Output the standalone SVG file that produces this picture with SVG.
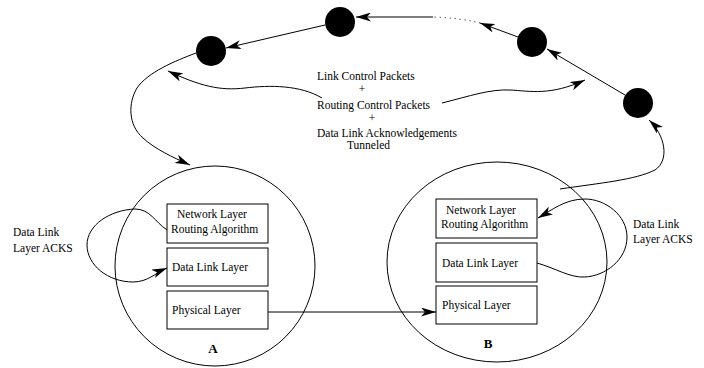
<svg xmlns="http://www.w3.org/2000/svg" width="704" height="368" viewBox="0 0 704 368">
  <style>
    text { font-family: "Liberation Serif", "Times New Roman", serif; font-size: 11.5px; fill: #000; }
    .big { font-size: 13px; font-weight: bold; }
    .shape { fill: none; stroke: #000; stroke-width: 1; }
    .box { fill: #fff; stroke: #000; stroke-width: 1; }
    .dot { fill: #000; }
    .wire { fill: none; stroke: #000; stroke-width: 1; }
    .arrow { marker-end: url(#head); }
    .dotted { stroke-dasharray: 1 4; }
  </style>
  <defs>
    <marker id="head" viewBox="0 0 15 9" refX="15" refY="4.5" markerWidth="15" markerHeight="9" markerUnits="userSpaceOnUse" orient="auto">
      <path d="M0,0 L15,4.5 L0,9 L4,4.5 z" fill="#000"/>
    </marker>
  </defs>

  <rect width="704" height="368" fill="#fff"/>

  <!-- Host A -->
  <g id="hostA">
    <circle class="shape" cx="215" cy="266" r="100"/>
    <text class="big" x="213" y="353" text-anchor="middle">A</text>
  </g>
  <g id="A-network">
    <rect class="box" x="167" y="204" width="101" height="39"/>
    <text x="177" y="218">Network Layer</text>
    <text x="171" y="233">Routing Algorithm</text>
  </g>
  <g id="A-datalink">
    <rect class="box" x="167" y="248" width="101" height="38"/>
    <text x="172" y="271">Data Link Layer</text>
  </g>
  <g id="A-physical">
    <rect class="box" x="167" y="291" width="101" height="38"/>
    <text x="172" y="314">Physical Layer</text>
  </g>

  <!-- Host B -->
  <g id="hostB">
    <ellipse class="shape" cx="497" cy="262" rx="110" ry="100"/>
    <text class="big" x="488" y="348" text-anchor="middle">B</text>
  </g>
  <g id="B-network">
    <rect class="box" x="436" y="199" width="101" height="39"/>
    <text x="446" y="214">Network Layer</text>
    <text x="441" y="228">Routing Algorithm</text>
  </g>
  <g id="B-datalink">
    <rect class="box" x="436" y="243" width="101" height="39"/>
    <text x="442" y="267">Data Link Layer</text>
  </g>
  <g id="B-physical">
    <rect class="box" x="436" y="286" width="101" height="38"/>
    <text x="442" y="309">Physical Layer</text>
  </g>

  <!-- Intermediate routers -->
  <g id="router1"><circle class="dot" cx="211" cy="51" r="15"/></g>
  <g id="router2"><circle class="dot" cx="340" cy="22" r="15"/></g>
  <g id="router3"><circle class="dot" cx="532" cy="42" r="15"/></g>
  <g id="router4"><circle class="dot" cx="638" cy="103" r="15"/></g>

  <!-- Side labels -->
  <g id="ackA-label">
    <text x="13" y="236">Data Link</text>
    <text x="13" y="252">Layer ACKS</text>
  </g>
  <g id="ackB-label">
    <text x="633" y="228">Data Link</text>
    <text x="633" y="243">Layer ACKS</text>
  </g>

  <!-- Tunnel caption -->
  <g id="tunnel-label">
    <text x="317" y="80">Link Control Packets</text>
    <text x="362" y="93" text-anchor="middle">+</text>
    <text x="317" y="109">Routing Control Packets</text>
    <text x="372" y="122" text-anchor="middle">+</text>
    <text x="317" y="137">Data Link Acknowledgements</text>
    <text x="347" y="149">Tunneled</text>
  </g>

  <!-- Connectors -->
  <g id="connectors">
    <path class="wire arrow" d="M268,312 L436,312"/>
    <path class="wire arrow" d="M167,230 C155,222 150,209 135,209 C110,210 87,225 87,245 C87,265 108,282 133,282 C148,282 155,273 167,268"/>
    <path class="wire arrow" d="M537,263 C555,268 570,278 585,277 C605,276 627,260 627,237 C627,215 605,199 585,199 C565,199 552,210 538,218"/>
    <path class="wire arrow" d="M560,189 C600,183 635,180 655,170 C670,160 665,135 649,120"/>
    <path class="wire arrow" d="M625,95 L547,49"/>
    <path class="wire arrow" d="M518,37 L480,23"/>
    <path class="wire dotted" d="M480,23 Q460,18 433,17"/>
    <path class="wire arrow" d="M433,17 L356,17"/>
    <path class="wire arrow" d="M325,25 L226,48"/>
    <path class="wire arrow" d="M196,53 C175,61 148,72 137,88 C128,103 128,125 143,138 C155,149 172,157 190,165"/>
    <path class="wire arrow" d="M322,98 C300,85 270,85 245,88 C220,91 200,86 168,71"/>
    <path class="wire arrow" d="M442,103 C470,96 490,89 510,90 C530,91 550,96 585,80"/>
  </g>
</svg>
